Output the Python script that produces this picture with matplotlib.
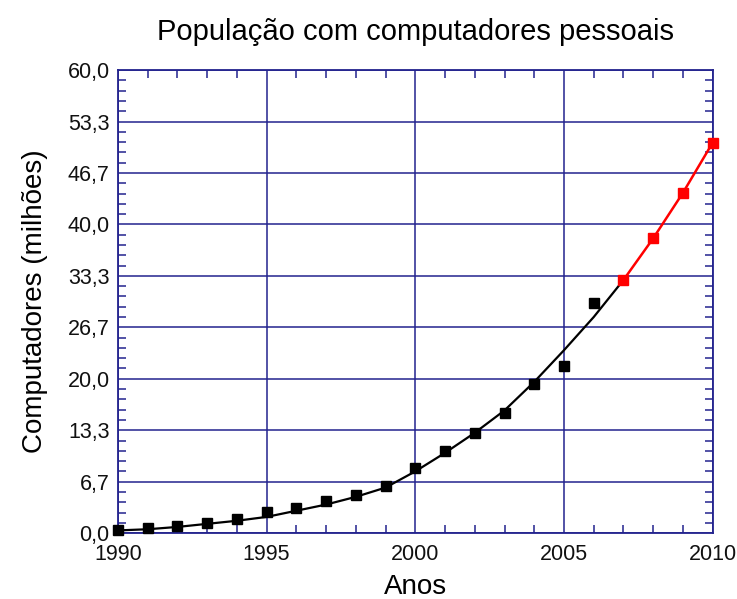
import numpy as np
import matplotlib
matplotlib.use("Agg")
import matplotlib.pyplot as plt
from matplotlib.ticker import FixedLocator, MultipleLocator

plt.rcParams['font.family'] = ['Liberation Sans', 'DejaVu Sans']

# Observed data (black squares)
years_obs = [1990, 1991, 1992, 1993, 1994, 1995, 1996, 1997, 1998, 1999,
             2000, 2001, 2002, 2003, 2004, 2005, 2006]
pcs_obs = [0.4, 0.6, 0.9, 1.3, 1.8, 2.7, 3.3, 4.2, 4.9, 6.1,
           8.5, 10.7, 13.0, 15.6, 19.3, 21.6, 29.8]

# Fitted curve (black line), read at each year
years_fit = [1990, 1991, 1992, 1993, 1994, 1995, 1996, 1997, 1998, 1999,
             2000, 2001, 2002, 2003, 2004, 2005, 2006, 2007]
pcs_fit = [0.35, 0.5, 0.8, 1.2, 1.6, 2.1, 2.9, 3.7, 4.7, 5.9,
           8.0, 10.4, 13.0, 15.9, 19.6, 23.7, 28.0, 32.8]

# Projection (red)
years_proj = [2007, 2008, 2009, 2010]
pcs_proj = [32.8, 38.2, 44.1, 50.6]

title = "População com computadores pessoais"
xlabel = "Anos"
ylabel = "Computadores (milhões)"
x_major = [1990, 1995, 2000, 2005, 2010]
y_major = [0.0, 6.7, 13.3, 20.0, 26.7, 33.3, 40.0, 46.7, 53.3, 60.0]

navy = '#23238e'

fig = plt.figure(figsize=(7.37, 5.99), dpi=100)
ax = fig.add_axes([0.160, 0.110, 0.807, 0.773])

ax.plot(years_fit, pcs_fit, color='black', lw=1.6, zorder=3,
        solid_joinstyle='round')
ax.plot(years_obs, pcs_obs, ls='none', marker='s', ms=7.5, color='black',
        zorder=4, clip_on=False)
ax.plot(years_proj, pcs_proj, color='red', lw=1.8, marker='s', ms=6.5,
        zorder=4, clip_on=False)

ax.set_xlim(1990, 2010)
ax.set_ylim(0, 60)

ax.xaxis.set_major_locator(FixedLocator(x_major))
ax.xaxis.set_minor_locator(MultipleLocator(1))
yt = np.linspace(0, 60, 10)
ax.yaxis.set_major_locator(FixedLocator(yt))
ax.yaxis.set_minor_locator(FixedLocator(np.linspace(0, 60, 46)))
ax.set_yticklabels([f"{v:.1f}".replace('.', ',') for v in y_major])
ax.set_xticklabels([str(v) for v in x_major])

ax.grid(True, which='major', color=navy, lw=1.1)
ax.set_axisbelow(True)
for s in ax.spines.values():
    s.set_color(navy)
    s.set_linewidth(1.3)

ax.tick_params(which='both', direction='in', top=True, right=True,
               color=navy, labelsize=15.5, labelcolor='#111111')
ax.tick_params(which='major', length=0, pad=6)
ax.tick_params(axis='x', which='major', pad=8)
ax.tick_params(which='minor', length=6, width=1.1)

ax.set_title(title, fontsize=21, pad=22)
ax.set_xlabel(xlabel, fontsize=20, labelpad=6)
ax.set_ylabel(ylabel, fontsize=20, labelpad=14)

fig.savefig("out.png", dpi=100, facecolor='white')
